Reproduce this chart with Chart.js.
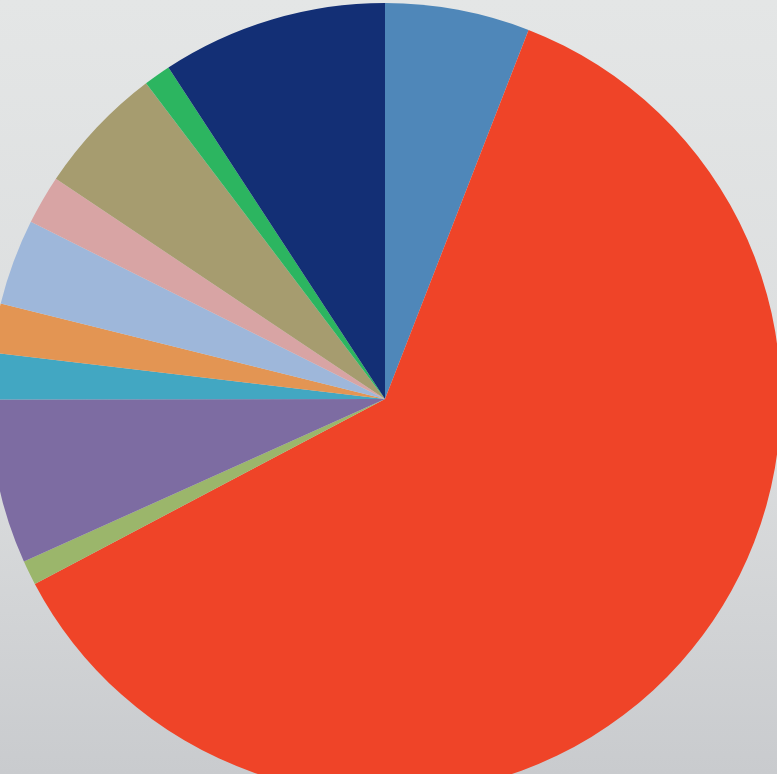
<!DOCTYPE html>
<html>
<head>
<meta charset="utf-8">
<script src="https://cdn.jsdelivr.net/npm/chart.js@4"></script>
<style>
    html, body {
        margin: 0;
        width: 777px;
        height: 774px;
        overflow: hidden;
        background: linear-gradient(to bottom, #e4e6e6 0%, #dadcdd 60%, #c9cbce 100%);
    }
    #wrap {
        position: absolute;
        left: -11px;
        top: 3px;
        width: 792px;
        height: 792px;
    }
</style>
</head>
<body>
<div id="wrap"><canvas id="pie-chart" width="792" height="792"></canvas></div>
<script>
// slices clockwise from 12 o'clock, shares in percent
const categories = ['A', 'B', 'C', 'D', 'E', 'F', 'G', 'H', 'I', 'J', 'K'];
const shares = [5.9, 61.3, 1.0, 6.7, 1.9, 2.0, 3.5, 2.0, 5.3, 1.1, 9.2];
const sliceColors = ['#4f87b9', '#ef4428', '#9bb66b', '#7d6ca2', '#42a7c2', '#e39553',
                     '#9eb7da', '#d8a4a4', '#a69c6f', '#2cb560', '#132f75'];

const pieCtx = document.getElementById('pie-chart').getContext('2d');

new Chart(pieCtx, {
    type: 'pie',
    data: {
        labels: categories,
        datasets: [{
            data: shares,
            backgroundColor: sliceColors,
            borderWidth: 0
        }]
    },
    options: {
        responsive: false,
        devicePixelRatio: 1,
        animation: false,
        layout: { padding: 0 },
        plugins: {
            legend: { display: false },
            tooltip: { enabled: false }
        }
    }
});
</script>
</body>
</html>
